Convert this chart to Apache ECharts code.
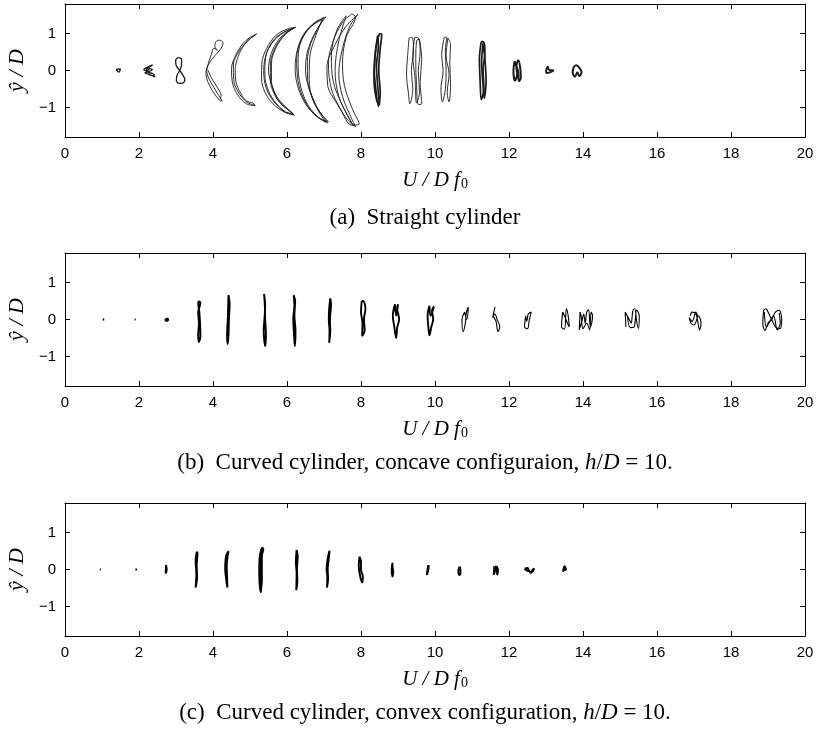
<!DOCTYPE html>
<html>
<head>
<meta charset="utf-8">
<script src="https://cdn.jsdelivr.net/npm/echarts@6/dist/echarts.min.js"></script>
<style>
html,body{margin:0;padding:0;background:#fff;}
#chart{width:817px;height:740px;}
</style>
</head>
<body>
<div id="chart"></div>
<script>
// ---------- axis settings ----------
const xRange = [0, 20];
const xTickStep = 2;
const yRange = [-1.8, 1.8];
const yTicks = [-1, 0, 1];
const captions = [
  '{n|(a)  Straight cylinder}',
  '{n|(b)  Curved cylinder, concave configuraion, }{i|h}{n|/}{i|D}{n| = 10.}',
  '{n|(c)  Curved cylinder, convex configuration, }{i|h}{n|/}{i|D}{n| = 10.}'
];

// ---------- (a) straight cylinder: orbits [U/Df0, y/D], each orbit = list of traced loops ----------
const a01 = [[[1.38,0.03],[1.5,0.04],[1.46,-0.04],[1.42,-0.02],[1.38,0.03]]];
const a02 = [[[2.37,0.15],[2.25,0.1],[2.13,0.02],[2.2,-0.01],[2.3,0.05],[2.36,0.02],[2.25,-0.03],[2.16,-0.06],[2.3,-0.12],[2.43,-0.17],[2.38,-0.09],[2.25,-0.05],[2.19,0.01],[2.28,0.09],[2.37,0.15]]];
const a03 = [[[3.1,0.0],[3.01,0.12],[2.99,0.27],[3.07,0.35],[3.15,0.3],[3.15,0.15],[3.1,0.0],[3.03,-0.12],[3.01,-0.27],[3.08,-0.35],[3.2,-0.33],[3.24,-0.24],[3.18,-0.12],[3.1,0.0]]];
const a04 = [
  [[4.12,0.55],[4.05,0.64],[4.08,0.78],[4.18,0.82],[4.27,0.75],[4.22,0.6],[4.05,0.4],[3.9,0.2],[3.83,0.0],[3.88,-0.2],[4.02,-0.45],[4.14,-0.65],[4.25,-0.83],[4.17,-0.8],[4.03,-0.62],[3.93,-0.45],[3.85,-0.28],[3.81,-0.08],[3.87,0.18],[3.96,0.45],[4.02,0.6],[4.12,0.55]],
  [[3.86,0.02],[3.97,-0.22],[4.13,-0.48],[4.22,-0.68],[4.19,-0.78]]
];
const a05 = [
  [[5.18,0.99],[4.98,0.88],[4.8,0.72],[4.62,0.42],[4.5,0.05],[4.52,-0.3],[4.66,-0.65],[4.9,-0.9],[5.14,-0.95],[5.08,-0.88],[4.9,-0.82],[4.75,-0.62],[4.62,-0.3],[4.6,0.02],[4.68,0.38],[4.85,0.7],[5.05,0.9],[5.18,0.99]],
  [[5.15,0.96],[4.95,0.82],[4.72,0.55],[4.55,0.15],[4.56,-0.25],[4.68,-0.58],[4.92,-0.86],[5.12,-0.93]]
];
const a06 = [
  [[6.24,1.17],[6.0,1.12],[5.7,0.95],[5.45,0.6],[5.32,0.2],[5.31,-0.2],[5.4,-0.58],[5.62,-0.9],[5.92,-1.12],[6.2,-1.21],[6.08,-1.1],[5.85,-0.92],[5.65,-0.62],[5.55,-0.25],[5.55,0.15],[5.65,0.55],[5.85,0.88],[6.1,1.1],[6.24,1.17]],
  [[6.2,1.15],[5.95,1.06],[5.66,0.85],[5.45,0.48],[5.37,0.0],[5.44,-0.48],[5.66,-0.86],[5.96,-1.12],[6.18,-1.19],[6.0,-1.04],[5.76,-0.8],[5.6,-0.42],[5.5,0.0],[5.57,0.45],[5.78,0.84],[6.04,1.07],[6.2,1.15]],
  [[6.16,1.13],[5.9,1.02],[5.6,0.75],[5.42,0.35],[5.4,-0.1],[5.5,-0.55],[5.72,-0.9],[6.02,-1.15],[6.16,-1.16],[5.96,-0.98],[5.72,-0.7],[5.58,-0.3],[5.58,0.2],[5.72,0.65],[5.96,0.98],[6.16,1.13]]
];
const a07 = [
  [[7.05,1.45],[6.75,1.3],[6.45,0.98],[6.28,0.55],[6.22,0.1],[6.27,-0.35],[6.45,-0.82],[6.75,-1.2],[7.1,-1.42],[6.98,-1.25],[6.78,-0.95],[6.6,-0.5],[6.5,0.0],[6.55,0.5],[6.72,0.95],[6.9,1.25],[7.05,1.45]],
  [[7.0,1.43],[6.68,1.22],[6.4,0.85],[6.26,0.35],[6.28,-0.15],[6.38,-0.6],[6.62,-1.05],[6.9,-1.3],[7.12,-1.38],[6.9,-1.15],[6.7,-0.75],[6.56,-0.3],[6.55,0.25],[6.65,0.75],[6.85,1.15],[7.0,1.43]],
  [[6.95,1.38],[6.6,1.15],[6.35,0.7],[6.3,0.2],[6.34,-0.3],[6.52,-0.85],[6.82,-1.25],[7.05,-1.4],[6.85,-1.1],[6.65,-0.65],[6.6,-0.1],[6.62,0.4],[6.78,0.95],[6.95,1.38]]
];
const a08 = [
  [[7.92,1.52],[7.6,1.2],[7.3,0.7],[7.08,0.1],[7.1,-0.4],[7.35,-0.9],[7.65,-1.35],[7.85,-1.52],[7.7,-1.2],[7.5,-0.7],[7.4,-0.1],[7.5,0.6],[7.7,1.2],[7.92,1.52]],
  [[7.75,1.53],[7.5,1.3],[7.25,0.8],[7.12,0.2],[7.2,-0.5],[7.45,-1.05],[7.75,-1.48],[7.95,-1.45],[7.75,-1.0],[7.55,-0.4],[7.5,0.2],[7.6,0.9],[7.85,1.45],[7.75,1.53]],
  [[7.6,1.48],[7.35,1.1],[7.2,0.4],[7.25,-0.3],[7.5,-0.95],[7.8,-1.5],[7.68,-1.3],[7.4,-0.7],[7.3,0.0],[7.4,0.8],[7.6,1.48]]
];
const a09 = [
  [[8.5,1.0],[8.4,0.6],[8.36,0.0],[8.4,-0.5],[8.47,-0.97],[8.52,-0.6],[8.48,0.0],[8.52,0.6],[8.56,0.98],[8.5,1.0]],
  [[8.45,0.95],[8.38,0.4],[8.35,-0.2],[8.42,-0.8],[8.5,-0.92],[8.45,-0.4],[8.42,0.1],[8.47,0.7],[8.45,0.95]]
];
const a10 = [
  [[9.3,0.88],[9.26,0.4],[9.23,-0.1],[9.28,-0.6],[9.32,-0.9],[9.4,-0.5],[9.36,0.0],[9.42,0.5],[9.38,0.9],[9.3,0.88]],
  [[9.45,0.9],[9.4,0.4],[9.46,-0.2],[9.5,-0.88],[9.58,-0.6],[9.55,0.0],[9.6,0.5],[9.55,0.88],[9.45,0.9]],
  [[9.58,0.85],[9.64,0.3],[9.6,-0.3],[9.64,-0.9],[9.55,-0.92],[9.5,-0.4],[9.48,0.3],[9.5,0.8],[9.58,0.85]]
];
const a11 = [
  [[10.25,0.9],[10.18,0.4],[10.22,0.0],[10.16,-0.5],[10.2,-0.85],[10.28,-0.5],[10.3,0.0],[10.28,0.5],[10.32,0.9],[10.25,0.9]],
  [[10.35,0.88],[10.3,0.4],[10.38,-0.1],[10.33,-0.6],[10.38,-0.85],[10.42,-0.4],[10.4,0.2],[10.42,0.7],[10.35,0.88]]
];
const a12 = [
  [[11.25,0.78],[11.2,0.3],[11.22,-0.3],[11.25,-0.79],[11.32,-0.5],[11.3,0.0],[11.35,0.5],[11.3,0.78],[11.25,0.78]],
  [[11.3,0.75],[11.26,0.2],[11.3,-0.4],[11.33,-0.75],[11.38,-0.3],[11.35,0.3],[11.3,0.75]]
];
const a13 = [[[12.15,0.25],[12.12,0.0],[12.16,-0.28],[12.22,-0.1],[12.2,0.1],[12.25,0.28],[12.3,0.1],[12.32,-0.2],[12.27,-0.29],[12.24,0.0],[12.15,0.25]]];
const a14 = [[[13.0,0.0],[13.05,0.1],[13.08,0.02],[13.2,0.0],[13.1,-0.05],[13.02,-0.07],[13.0,0.0]]];
const a15 = [[[13.75,0.1],[13.72,-0.05],[13.78,-0.17],[13.85,-0.05],[13.9,-0.15],[13.96,-0.05],[13.9,0.08],[13.82,0.14],[13.75,0.1]]];

// ---------- (b) concave ----------
const b01 = [[[1.02,0.0],[1.06,0.0]]];
const b02 = [[[1.88,0.0],[1.91,0.0]]];
const b03 = [[[2.72,0.02],[2.78,0.02],[2.78,-0.03],[2.72,-0.03],[2.72,0.02]]];
const b04 = [[[3.62,0.5],[3.66,0.45],[3.6,0.2],[3.62,-0.1],[3.6,-0.4],[3.62,-0.61],[3.66,-0.45],[3.65,-0.1],[3.63,0.2],[3.6,0.45],[3.62,0.5]]];
const b05 = [[[4.42,0.66],[4.45,0.4],[4.43,0.0],[4.42,-0.4],[4.4,-0.67],[4.38,-0.4],[4.4,0.0],[4.41,0.4],[4.42,0.66]]];
const b06 = [[[5.38,0.69],[5.41,0.4],[5.39,0.0],[5.37,-0.3],[5.41,-0.72],[5.43,-0.4],[5.41,0.0],[5.4,0.4],[5.38,0.69]]];
const b07 = [[[6.18,0.66],[6.2,0.4],[6.17,0.0],[6.19,-0.4],[6.21,-0.72],[6.23,-0.3],[6.2,0.1],[6.22,0.5],[6.18,0.66]]];
const b08 = [[[7.17,0.57],[7.14,0.3],[7.13,0.0],[7.15,-0.3],[7.14,-0.63],[7.17,-0.3],[7.16,0.0],[7.19,0.4],[7.17,0.57]]];
const b09 = [[[8.02,0.5],[8.0,0.2],[8.04,-0.1],[8.03,-0.45],[8.1,-0.3],[8.08,0.0],[8.12,0.3],[8.06,0.5],[8.02,0.5]]];
const b10 = [[[8.92,0.41],[8.86,0.1],[8.9,-0.2],[8.95,-0.5],[8.98,-0.2],[9.03,0.0],[8.98,0.3],[9.0,0.41],[8.95,0.1],[8.92,0.41]]];
const b11 = [[[9.85,0.37],[9.8,0.1],[9.82,-0.2],[9.85,-0.43],[9.9,-0.2],[9.95,0.0],[9.92,0.25],[9.97,0.35],[9.88,0.1],[9.85,0.37]]];
const b12 = [[[10.8,0.2],[10.73,0.0],[10.76,-0.33],[10.82,-0.1],[10.85,0.2],[10.9,0.34],[10.86,0.0],[10.8,0.2]]];
const b13 = [[[11.62,0.34],[11.58,0.1],[11.65,-0.05],[11.7,-0.33],[11.75,-0.2],[11.68,0.0],[11.62,0.15],[11.56,0.05],[11.62,0.34]]];
const b14 = [[[12.45,0.1],[12.42,-0.2],[12.5,-0.25],[12.55,0.0],[12.6,0.2],[12.52,0.15],[12.48,-0.05],[12.45,0.1]]];
const b15 = [[[13.45,0.2],[13.42,-0.2],[13.5,-0.26],[13.55,0.29],[13.6,0.1],[13.63,-0.2],[13.58,-0.1],[13.5,0.1],[13.45,0.2]]];
const b16 = [[[13.92,0.2],[13.9,-0.28],[13.98,0.0],[14.02,0.15],[14.06,-0.1],[14.1,0.2],[14.15,0.26],[14.2,-0.2],[14.26,0.1],[14.22,0.2],[14.18,-0.28],[14.1,-0.1],[14.0,-0.25],[13.95,0.1],[13.92,0.2]]];
const b17 = [[[15.16,-0.2],[15.14,0.2],[15.25,0.0],[15.3,-0.1],[15.35,0.25],[15.4,0.29],[15.45,-0.05],[15.5,-0.24],[15.52,0.1],[15.45,0.25],[15.38,-0.2],[15.28,-0.22],[15.2,0.1]]];
const b18 = [[[16.9,0.1],[16.95,0.2],[17.05,0.15],[17.1,-0.05],[17.15,-0.28],[17.19,-0.1],[17.12,0.1],[17.0,-0.15],[16.92,-0.1],[16.87,0.05],[16.95,-0.05],[17.05,0.2],[17.1,0.05]]];
const b19 = [
  [[18.88,0.25],[18.86,-0.1],[18.92,-0.3],[19.0,-0.1],[19.1,0.0],[19.2,0.2],[19.3,0.25],[19.37,0.0],[19.32,-0.25],[19.2,-0.2],[19.1,0.0],[19.0,0.2],[18.95,0.29],[18.88,0.25]],
  [[18.9,0.2],[18.96,-0.2],[19.05,-0.05],[19.15,0.1],[19.25,-0.28],[19.33,-0.1],[19.3,0.18]]
];

// ---------- (c) convex ----------
const c01 = [[[0.94,0.0],[0.97,0.0]]];
const c02 = [[[1.9,0.0],[1.95,0.0]]];
const c03 = [[[2.73,0.12],[2.72,-0.11],[2.75,0.0],[2.73,0.12]]];
const c04 = [[[3.56,0.48],[3.53,0.2],[3.55,-0.1],[3.53,-0.49],[3.57,-0.2],[3.56,0.1],[3.58,0.45],[3.56,0.48]]];
const c05 = [[[4.42,0.5],[4.35,0.35],[4.33,0.0],[4.36,-0.3],[4.39,-0.49],[4.38,-0.2],[4.37,0.1],[4.4,0.4],[4.42,0.5]]];
const c06 = [
  [[5.33,0.6],[5.27,0.4],[5.25,0.0],[5.26,-0.4],[5.3,-0.62],[5.31,-0.3],[5.29,0.0],[5.31,0.35],[5.36,0.55],[5.33,0.6]],
  [[5.31,0.55],[5.28,0.2],[5.28,-0.2],[5.28,-0.55],[5.32,-0.3],[5.32,0.2],[5.31,0.55]]
];
const c07 = [[[6.26,0.53],[6.24,0.2],[6.26,-0.1],[6.25,-0.56],[6.28,-0.3],[6.27,0.0],[6.29,0.35],[6.26,0.53]]];
const c08 = [[[7.15,0.51],[7.1,0.3],[7.07,0.0],[7.09,-0.2],[7.08,-0.49],[7.11,-0.25],[7.1,0.0],[7.13,0.3],[7.15,0.51]]];
const c09 = [[[7.96,0.35],[7.94,0.1],[7.97,-0.15],[8.03,-0.35],[8.05,-0.2],[8.0,0.0],[8.0,0.2],[7.96,0.35]]];
const c10 = [[[8.85,0.18],[8.83,0.0],[8.85,-0.19],[8.87,-0.05],[8.85,0.1],[8.85,0.18]]];
const c11 = [[[9.82,0.12],[9.79,-0.05],[9.78,-0.15],[9.81,-0.05],[9.83,0.08],[9.82,0.12]]];
const c12 = [[[10.66,0.07],[10.63,-0.05],[10.66,-0.15],[10.69,-0.1],[10.68,0.05],[10.66,0.07]]];
const c13 = [[[11.6,0.09],[11.59,-0.14],[11.62,-0.05],[11.64,0.08],[11.67,0.05],[11.68,-0.14],[11.7,0.0],[11.66,0.09]]];
const c14 = [[[12.42,0.02],[12.5,0.04],[12.55,-0.05],[12.6,-0.09],[12.63,-0.02],[12.68,0.03],[12.62,-0.06],[12.5,-0.04],[12.42,0.02]]];
const c15 = [[[13.46,-0.06],[13.5,0.09],[13.54,0.0],[13.48,-0.02],[13.46,-0.06]]];

const panelA = [a01,a02,a03,a04,a05,a06,a07,a08,a09,a10,a11,a12,a13,a14,a15];
const panelB = [b01,b02,b03,b04,b05,b06,b07,b08,b09,b10,b11,b12,b13,b14,b15,b16,b17,b18,b19];
const panelC = [c01,c02,c03,c04,c05,c06,c07,c08,c09,c10,c11,c12,c13,c14,c15];

// ---------- build ----------
const SANS = 'Liberation Sans, Arial, Helvetica, sans-serif';
const SERIF = 'Liberation Serif, Times New Roman, serif';
const gridTops = [4, 253, 503];
const grids = gridTops.map(t => ({left: 65, right: 12, top: t, height: 133, containLabel: false, outerBoundsMode: 'none'}));

const xAxes = [], yAxes = [];
const axisLine = {show: true, onZero: false, lineStyle: {color: '#000', width: 1}};
gridTops.forEach((t, g) => {
  xAxes.push({
    type: 'value', gridIndex: g, position: 'bottom', min: xRange[0], max: xRange[1], interval: xTickStep,
    axisLine: axisLine, splitLine: {show: false},
    axisTick: {show: true, inside: true, length: 5, lineStyle: {color: '#000', width: 1}},
    axisLabel: {show: true, margin: 9, color: '#000', fontFamily: SANS, fontSize: 15},
    name: '{i|U / D f}{s|0}', nameLocation: 'middle', nameGap: 28,
    nameTextStyle: {rich: {
      i: {fontFamily: SERIF, fontStyle: 'italic', fontSize: 21, color: '#000', lineHeight: 26, verticalAlign: 'bottom'},
      s: {fontFamily: SERIF, fontSize: 14, color: '#000', lineHeight: 20, verticalAlign: 'bottom', padding: [0, 0, 0, 1]}
    }}
  });
  xAxes.push({
    type: 'value', gridIndex: g, position: 'top', min: xRange[0], max: xRange[1], interval: xTickStep,
    axisLine: axisLine, splitLine: {show: false},
    axisTick: {show: true, inside: true, length: 5, lineStyle: {color: '#000', width: 1}},
    axisLabel: {show: false}
  });
  yAxes.push({
    type: 'value', gridIndex: g, position: 'left', min: yRange[0], max: yRange[1],
    axisLine: axisLine, splitLine: {show: false},
    axisTick: {show: true, inside: true, length: 5, customValues: yTicks, lineStyle: {color: '#000', width: 1}},
    axisLabel: {show: true, margin: 9, color: '#000', fontFamily: SANS, fontSize: 15, customValues: yTicks,
      formatter: v => String(v).replace('-', '\u2212')},
    name: 'ŷ / D', nameLocation: 'middle', nameRotate: 90, nameGap: 37,
    nameTextStyle: {fontFamily: SERIF, fontStyle: 'italic', fontSize: 22, color: '#000'}
  });
  yAxes.push({
    type: 'value', gridIndex: g, position: 'right', min: yRange[0], max: yRange[1],
    axisLine: axisLine, splitLine: {show: false},
    axisTick: {show: true, inside: true, length: 5, customValues: yTicks, lineStyle: {color: '#000', width: 1}},
    axisLabel: {show: false}
  });
});

const widthA = (o, i) => (i < 3 ? 1.3 : (i === 8 || i === 11 ? 1.7 : (i > 11 ? 2.0 : 0.9)));
const widthB = (o, i) => i < 3 ? 2.2 : (i < 11 ? 1.9 : 1.1);
const widthC = (o, i) => i < 3 ? 1.8 : 1.9;

const series = [];
function addPanel(orbits, g, wf, col) {
  orbits.forEach((orbit, i) => {
    orbit.forEach(loop => {
      series.push({
        type: 'line', xAxisIndex: 2 * g, yAxisIndex: 2 * g, data: loop,
        symbol: 'none', showSymbol: false, smooth: 0.35, silent: true, animation: false,
        lineStyle: {color: col, width: wf(orbit, i)}, z: 3
      });
    });
  });
}
addPanel(panelA, 0, widthA, '#1a1a1a');
addPanel(panelB, 1, widthB, '#000');
addPanel(panelC, 2, widthC, '#000');

const capY = [218, 463, 713];
const graphic = captions.map((txt, k) => ({
  type: 'text', x: 425, y: capY[k], silent: true,
  style: {
    text: txt, textAlign: 'center', textVerticalAlign: 'middle', align: 'center', verticalAlign: 'middle',
    rich: {
      n: {fontFamily: SERIF, fontSize: 23, fill: '#000', color: '#000'},
      i: {fontFamily: SERIF, fontStyle: 'italic', fontSize: 23, fill: '#000', color: '#000'}
    }
  }
}));

const chart = echarts.init(document.getElementById('chart'), null, {renderer: 'canvas'});
chart.setOption({
  animation: false,
  backgroundColor: '#fff',
  grid: grids,
  xAxis: xAxes,
  yAxis: yAxes,
  series: series,
  graphic: graphic
});
</script>
</body>
</html>
